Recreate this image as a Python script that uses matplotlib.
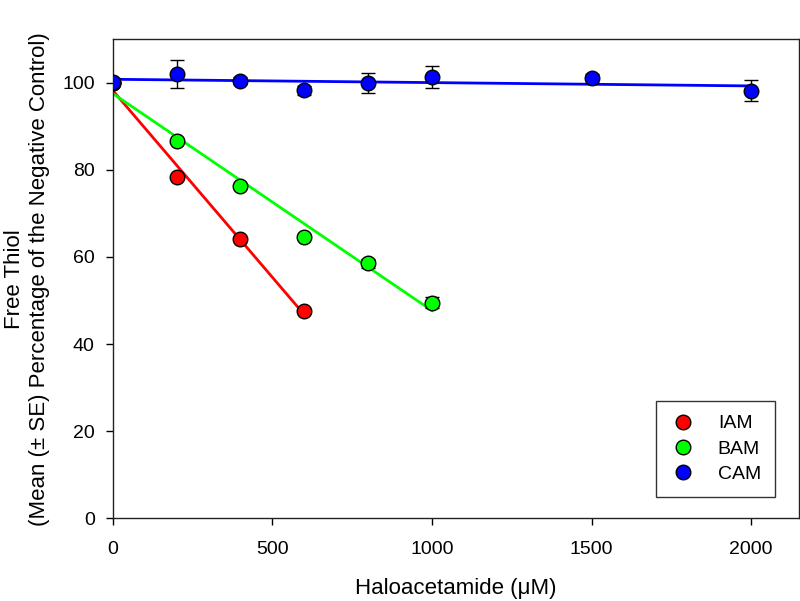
import numpy as np
import matplotlib.pyplot as plt

plt.rcParams['font.family'] = ['Liberation Sans', 'DejaVu Sans']

# data
iam_x = [0, 200, 400, 600]
iam_y = [100.0, 78.3, 64.0, 47.6]
iam_se = [0.3, 0.4, 0.4, 0.4]

bam_x = [0, 200, 400, 600, 800, 1000]
bam_y = [100.0, 86.7, 76.3, 64.5, 58.5, 49.5]
bam_se = [0.3, 0.4, 0.5, 0.5, 1.0, 1.3]

cam_x = [0, 200, 400, 600, 800, 1000, 1500, 2000]
cam_y = [100.1, 102.0, 100.4, 98.2, 100.0, 101.3, 101.0, 98.1]
cam_se = [1.0, 3.2, 0.8, 1.0, 2.3, 2.5, 1.0, 2.4]

series = [
    ('IAM', iam_x, iam_y, iam_se, '#ff0000'),
    ('BAM', bam_x, bam_y, bam_se, '#00ff00'),
    ('CAM', cam_x, cam_y, cam_se, '#0000ff'),
]

fig = plt.figure(figsize=(8, 6.01), dpi=100)
ax = fig.add_axes([0.1409, 0.1376, 0.8579, 0.7975])

for name, x, y, se, col in series:
    x = np.array(x, dtype=float)
    y = np.array(y)
    # linear regression line
    k, b = np.polyfit(x, y, 1)
    xx = np.array([x.min(), x.max()])
    ax.plot(xx, k * xx + b, color=col, lw=2, zorder=2)
    ax.errorbar(x, y, yerr=se, fmt='none', ecolor='black', elinewidth=1,
                capsize=5, capthick=1, zorder=3)
    ax.plot(x, y, 'o', color=col, markersize=10.5, markeredgecolor='black',
            markeredgewidth=1, label=name, zorder=4)

ax.set_xlim(0, 2150)
ax.set_ylim(0, 110)
ax.set_xticks([0, 500, 1000, 1500, 2000])
ax.set_yticks([0, 20, 40, 60, 80, 100])
ax.tick_params(direction='out', length=5, width=1, labelsize=14)
ax.tick_params(axis='x', pad=11)
ax.tick_params(axis='y', pad=8)
for s in ax.spines.values():
    s.set_linewidth(1)
    s.set_color('#222222')

ax.set_xlabel('Haloacetamide (\u03bcM)', fontsize=16, labelpad=15)
ax.set_ylabel('Free Thiol\n(Mean (\u00b1 SE) Percentage of the Negative Control)',
              fontsize=16, labelpad=9, linespacing=1.25)

leg = ax.legend(loc='lower right', bbox_to_anchor=(0.9645, 0.045), fontsize=14,
                frameon=True, fancybox=False, edgecolor='black',
                handletextpad=1.1, borderpad=0.7, labelspacing=0.4,
                borderaxespad=0, handlelength=1.4)
leg.get_frame().set_linewidth(1)

fig.savefig('out.png', dpi=100)
